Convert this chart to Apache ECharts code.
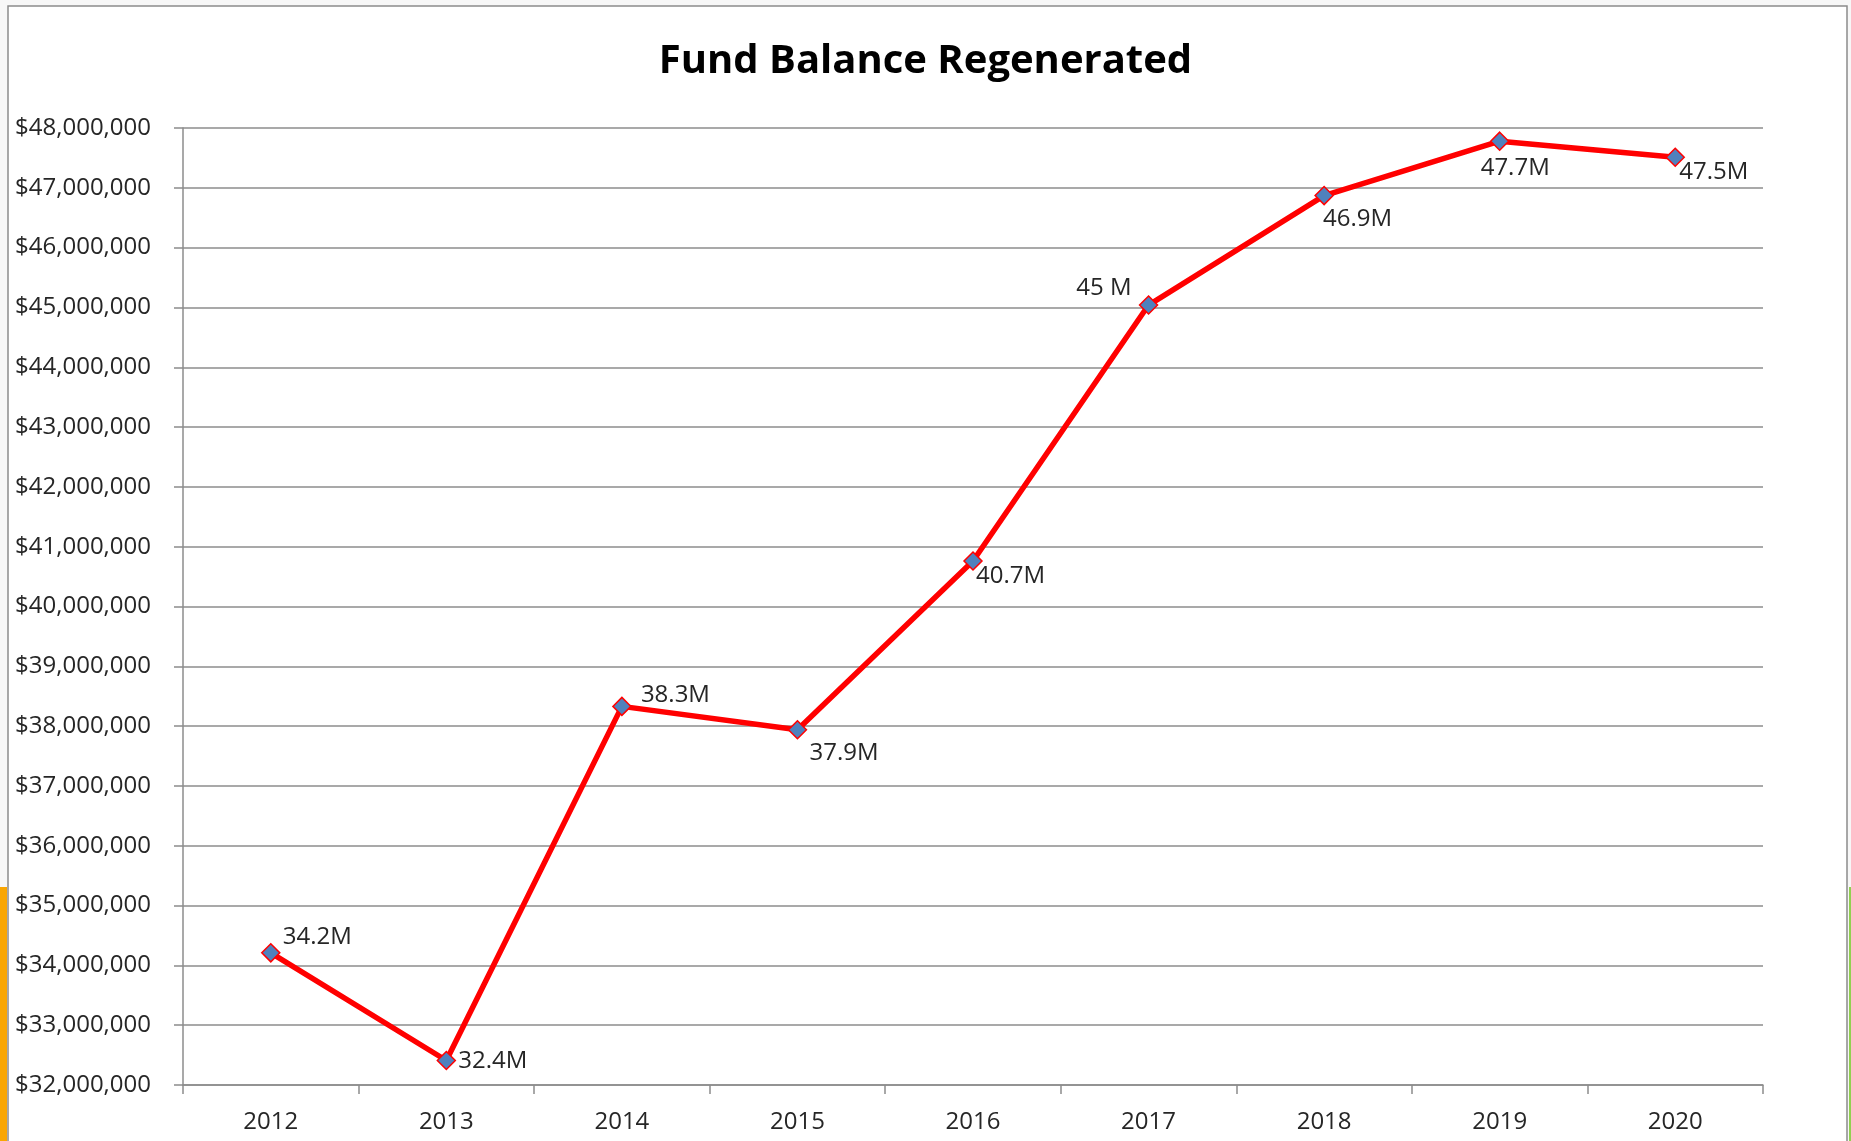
<!DOCTYPE html>
<html>
<head>
<meta charset="utf-8">
<script src="https://cdn.jsdelivr.net/npm/echarts@6/dist/echarts.min.js"></script>
<style>
  html, body { margin: 0; padding: 0; background: #f7f7f7; }
  #chart { width: 1851px; height: 1141px; }
</style>
</head>
<body>
<div id="chart"></div>
<script>
// data
const years = ['2012', '2013', '2014', '2015', '2016', '2017', '2018', '2019', '2020']
const balance = [34210000, 32410000, 38330000, 37940000, 40760000, 45040000, 46870000, 47780000, 47510000]
const pointLabels = ['34.2M', '32.4M', '38.3M', '37.9M', '40.7M', '45 M', '46.9M', '47.7M', '47.5M']

// where each data label sits relative to its marker
const labelPlace = [
  { align: 'left', offset: [12, -16] },
  { align: 'left', offset: [12, 1] },
  { align: 'left', offset: [19, -11] },
  { align: 'left', offset: [12, 23] },
  { align: 'left', offset: [3, 15] },
  { align: 'right', offset: [-17, -17] },
  { align: 'left', offset: [-1, 24] },
  { align: 'left', offset: [-19, 27] },
  { align: 'left', offset: [4, 15] }
]

const font = '"Open Sans", "Noto Sans", sans-serif'
const chart = echarts.init(document.getElementById('chart'))

const option = {
  animation: false,
  graphic: [
    { type: 'rect', shape: { x: 8, y: 6, width: 1839, height: 1140 }, style: { fill: '#fff', stroke: '#8c8c8c', lineWidth: 1.5 }, z: -10 },
    { type: 'rect', shape: { x: 0, y: 887, width: 7, height: 260 }, style: { fill: '#f9a602' }, z: -9 },
    { type: 'rect', shape: { x: 1849, y: 887, width: 4, height: 260 }, style: { fill: '#92d050' }, z: -9 }
  ],
  title: {
    text: 'Fund Balance Regenerated',
    left: 'center',
    top: 36,
    textStyle: { fontFamily: font, fontSize: 40, fontWeight: 'bold', color: '#000', lineHeight: 42 }
  },
  grid: { left: 183, right: 88, top: 128, bottom: 56, containLabel: false },
  xAxis: {
    type: 'category',
    data: years,
    boundaryGap: true,
    axisLine: { lineStyle: { color: '#8c8c8c', width: 1.5 } },
    axisTick: { show: true, length: 9, lineStyle: { color: '#8c8c8c', width: 1.5 } },
    axisLabel: { margin: 25, color: '#262626', fontFamily: font, fontSize: 24 },
    splitLine: { show: false }
  },
  yAxis: {
    type: 'value',
    min: 32000000,
    max: 48000000,
    interval: 1000000,
    axisLine: { show: true, lineStyle: { color: '#8c8c8c', width: 1.5 } },
    axisTick: { show: true, length: 9, lineStyle: { color: '#8c8c8c', width: 1.5 } },
    axisLabel: {
      margin: 32,
      color: '#262626',
      fontFamily: font,
      fontSize: 24,
      formatter: v => '$' + v.toLocaleString('en-US')
    },
    splitLine: { lineStyle: { color: '#8c8c8c', width: 1.5 } }
  },
  series: [
    {
      type: 'line',
      data: balance.map((v, i) => ({
        value: v,
        label: {
          show: true,
          position: 'inside',
          align: labelPlace[i].align,
          verticalAlign: 'middle',
          offset: labelPlace[i].offset,
          formatter: pointLabels[i]
        }
      })),
      symbol: 'diamond',
      symbolSize: 18,
      lineStyle: { color: '#ff0000', width: 5.5 },
      itemStyle: { color: '#4f81bd', borderColor: '#ff0000', borderWidth: 1.5 },
      label: { color: '#262626', fontFamily: font, fontSize: 24 },
      z: 3
    }
  ]
}
chart.setOption(option)
</script>
</body>
</html>
